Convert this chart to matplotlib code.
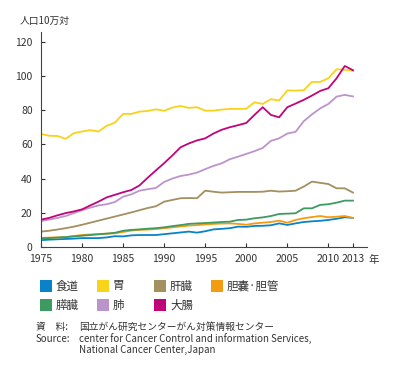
import matplotlib
matplotlib.use("Agg")
import matplotlib.pyplot as plt
from matplotlib.patches import Rectangle

plt.rcParams['font.family'] = ['Noto Sans CJK JP', 'DejaVu Sans']

years = list(range(1975, 2014))

# 人口10万対 死亡率 (読み取り値)
shokudo = [4.0, 4.3, 4.5, 4.7, 4.9, 5.2, 5.2, 5.2, 5.6, 6.3, 6.2, 6.8, 7.0, 7.0, 7.0, 7.5, 8.0, 8.5, 9.0, 8.4,
           9.2, 10.3, 10.6, 11.0, 11.9, 11.8, 12.3, 12.4, 12.7, 13.8, 12.9, 13.8, 14.6, 15.0, 15.3, 15.8, 16.5, 17.4, 17.0]
i = [66.1, 65.0, 64.9, 63.2, 66.5, 67.5, 68.3, 67.5, 70.8, 72.7, 77.8, 77.8, 79.1, 79.5, 80.5, 79.6, 81.5, 82.4, 81.3, 81.7,
     79.7, 79.7, 80.3, 80.7, 80.7, 80.8, 84.6, 83.6, 86.4, 85.6, 91.5, 91.4, 91.6, 96.5, 96.5, 98.6, 103.9, 103.6, 103.0]
kanzo = [9.0, 9.5, 10.2, 11.0, 11.9, 13.0, 14.2, 15.4, 16.6, 17.8, 19.0, 20.2, 21.5, 22.8, 23.8, 26.5, 27.5, 28.5, 28.6, 28.5,
         32.9, 32.3, 31.8, 32.0, 32.2, 32.2, 32.2, 32.3, 32.9, 32.4, 32.6, 32.9, 35.3, 38.2, 37.5, 36.8, 34.3, 34.3, 31.8]
tanno = [5.3, 5.5, 5.6, 5.8, 6.4, 7.0, 7.3, 7.6, 7.8, 8.0, 8.8, 9.6, 10.0, 10.2, 10.5, 11.0, 11.5, 12.0, 12.5, 12.8,
         13.2, 13.5, 13.7, 13.8, 13.5, 13.0, 13.8, 14.2, 14.6, 15.4, 14.2, 15.8, 16.8, 17.5, 18.1, 17.4, 17.7, 18.1, 17.0]
suizo = [5.0, 5.2, 5.5, 5.8, 6.2, 6.6, 7.0, 7.4, 7.8, 8.3, 9.5, 10.0, 10.3, 10.7, 11.0, 11.5, 12.2, 12.8, 13.5, 13.8,
         14.0, 14.3, 14.6, 14.8, 15.8, 16.0, 16.8, 17.3, 18.1, 19.3, 19.5, 19.7, 22.6, 22.6, 24.6, 25.0, 25.9, 27.1, 27.1]
hai = [15.2, 16.0, 17.0, 18.1, 19.8, 21.5, 23.0, 24.3, 25.0, 26.3, 29.4, 30.8, 32.9, 33.8, 34.5, 38.0, 40.0, 41.5, 42.3, 43.5,
       45.5, 47.4, 48.9, 51.3, 52.8, 54.4, 56.0, 57.9, 62.0, 63.5, 66.3, 67.3, 73.5, 77.5, 81.0, 83.6, 87.9, 88.9, 88.0]
daicho = [16.0, 17.0, 18.5, 19.8, 20.8, 22.0, 24.3, 26.5, 29.0, 30.5, 32.0, 33.3, 36.0, 40.5, 44.8, 49.0, 53.5, 58.3, 60.5, 62.3,
          63.5, 66.3, 68.5, 70.0, 71.2, 72.5, 77.2, 81.7, 77.2, 75.8, 81.7, 83.8, 86.0, 88.5, 91.2, 92.8, 98.6, 105.8, 103.3]

labels = ['食道', '胃', '肝臓', '胆嚢·胆管', '膵臓', '肺', '大腸']
colors = ['#0a82c8', '#f9d21a', '#a38f5f', '#f39c12', '#3d9a60', '#bc94cc', '#c0047a']
series = [shokudo, i, kanzo, tanno, suizo, hai, daicho]

xticks = [1975, 1980, 1985, 1990, 1995, 2000, 2005, 2010, 2013]
yticks = [0, 20, 40, 60, 80, 100, 120]

fig = plt.figure(figsize=(3.98, 3.80), dpi=100)
ax = fig.add_axes([0.103, 0.35, 0.819, 0.566])

for s, c in zip(series, colors):
    ax.plot(years, s, color=c, lw=1.3)

ax.set_xlim(1975, 2014.7)
ax.set_ylim(0, 125.7)
ax.set_xticks(xticks)
ax.set_yticks(yticks)
ax.tick_params(direction='in', length=3, width=0.8, labelsize=7.5, colors='#333333')
ax.tick_params(axis='x', pad=5)
ax.tick_params(axis='y', pad=6)
for sp in ['top', 'right']:
    ax.spines[sp].set_visible(False)
for sp in ['left', 'bottom']:
    ax.spines[sp].set_color('#444444')
    ax.spines[sp].set_linewidth(0.8)

fig.text(0.05, 0.945, '人口10万対', fontsize=7, color='#333333', va='center')
fig.text(0.927, 0.315, '年', fontsize=7.5, color='#333333', va='center')

# 凡例 (4列, 行方向)
W, H = 398.0, 380.0
for k, (lab, c) in enumerate(zip(labels, colors)):
    row, col = divmod(k, 4)
    x0 = 40 + col * 57
    yc = 286 + row * 19
    fig.add_artist(Rectangle((x0 / W, 1 - (yc + 6) / H), 12 / W, 12 / H,
                             transform=fig.transFigure, facecolor=c, edgecolor='none'))
    fig.text((x0 + 16) / W, 1 - yc / H, lab, fontsize=8.3, color='#333333', va='center')

tc = '#333333'
fig.text(0.09, 0.14, '資　料:', fontsize=7, color=tc, va='center')
fig.text(0.198, 0.14, '国立がん研究センターがん対策情報センター', fontsize=7, color=tc, va='center')
fig.text(0.09, 0.108, 'Source:', fontsize=7, color=tc, va='center')
fig.text(0.198, 0.108, 'center for Cancer Control and information Services,', fontsize=7, color=tc, va='center')
fig.text(0.198, 0.078, 'National Cancer Center,Japan', fontsize=7, color=tc, va='center')

fig.savefig('out.png', dpi=100)
